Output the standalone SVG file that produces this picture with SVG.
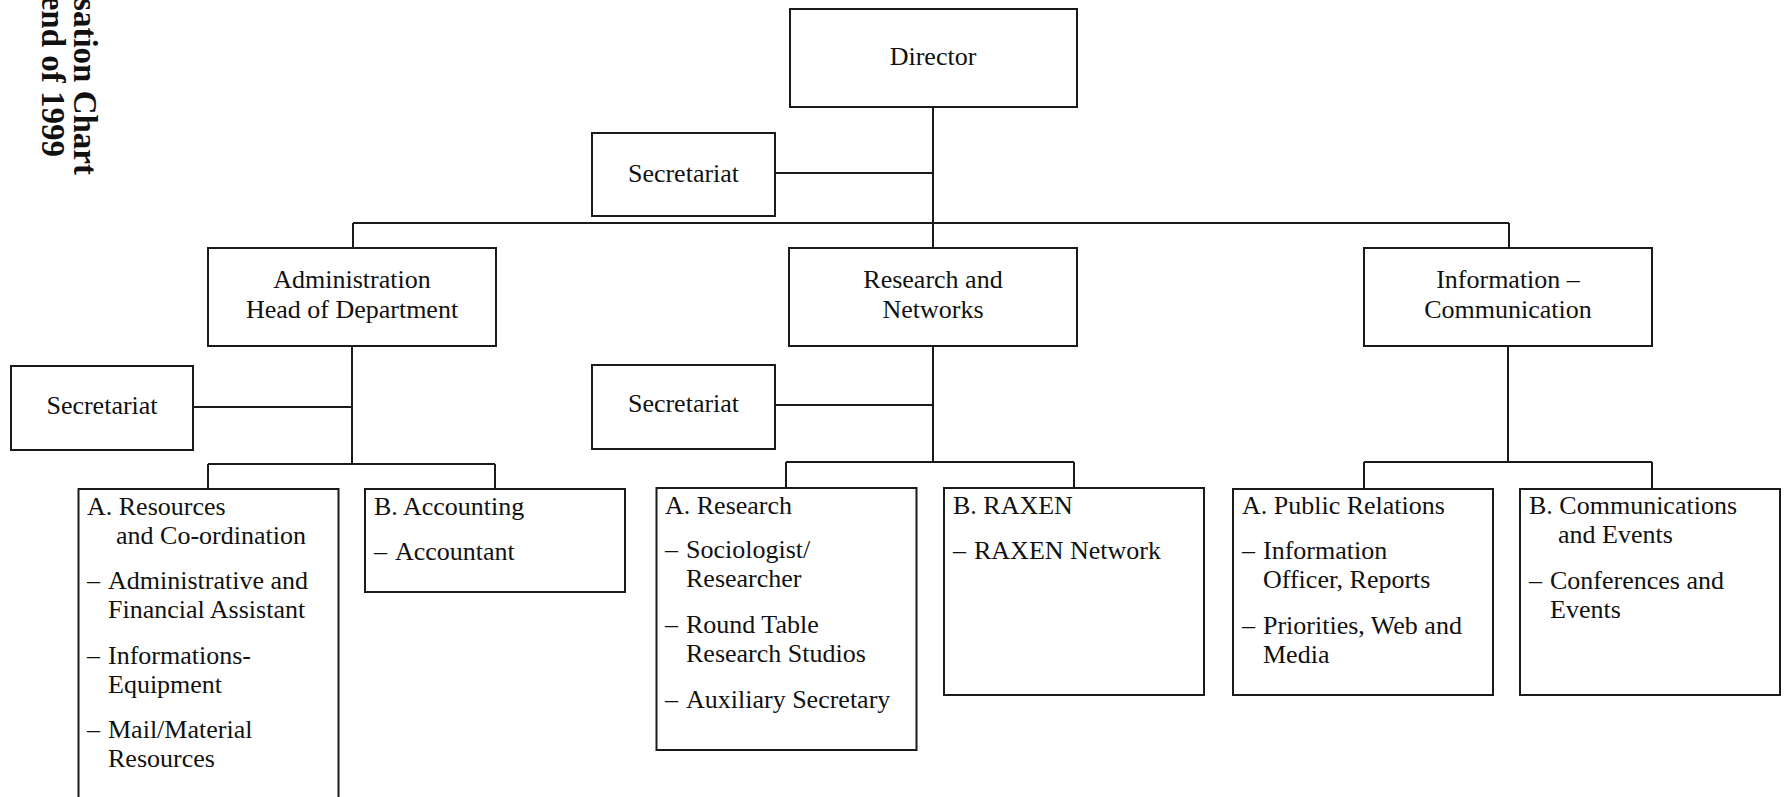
<svg xmlns="http://www.w3.org/2000/svg" width="1784" height="797" viewBox="0 0 1784 797">
<style>
  .box { fill: #ffffff; stroke: #1a1a1a; stroke-width: 2; }
  .conn { fill: none; stroke: #1a1a1a; stroke-width: 2; }
  .t { font-family: "Liberation Serif", "Times New Roman", serif; font-size: 26px; fill: #111111; }
  .c { text-anchor: middle; }
  .title { font-family: "Liberation Serif", "Times New Roman", serif; font-size: 33px; font-weight: bold; fill: #111111; text-anchor: end; }
</style>
<rect width="1784" height="797" fill="#ffffff"/>

<g id="title">
  <text class="title" transform="translate(74,175) rotate(90)">sation Chart</text>
  <text class="title" transform="translate(42,157) rotate(90)">end of 1999</text>
</g>

<g id="connectors">
  <path class="conn" d="M933 107 V248 M775 173 H933 M353 223 H1509 M353 223 V248 M1509 223 V248"/>
  <path class="conn" d="M352 346 V464 M193 407 H352 M208 464 H495 M208 464 V489 M495 464 V489"/>
  <path class="conn" d="M933 346 V462 M775 405 H933 M786 462 H1074 M786 462 V488 M1074 462 V488"/>
  <path class="conn" d="M1508 346 V462 M1364 462 H1652 M1364 462 V489 M1652 462 V489"/>
</g>

<g id="director">
  <rect class="box" x="790" y="9" width="287" height="98"/>
  <text class="t c" x="933" y="65">Director</text>
</g>
<g id="secretariat-director">
  <rect class="box" x="592" y="133" width="183" height="83"/>
  <text class="t c" x="683.5" y="182">Secretariat</text>
</g>

<g id="administration">
  <rect class="box" x="208" y="248" width="288" height="98"/>
  <text class="t c" x="352" y="288">Administration</text>
  <text class="t c" x="352" y="318">Head of Department</text>
</g>
<g id="research-networks">
  <rect class="box" x="789" y="248" width="288" height="98"/>
  <text class="t c" x="933" y="288">Research and</text>
  <text class="t c" x="933" y="318">Networks</text>
</g>
<g id="information-communication">
  <rect class="box" x="1364" y="248" width="288" height="98"/>
  <text class="t c" x="1508" y="288">Information –</text>
  <text class="t c" x="1508" y="318">Communication</text>
</g>

<g id="secretariat-admin">
  <rect class="box" x="11" y="366" width="182" height="84"/>
  <text class="t c" x="102" y="414">Secretariat</text>
</g>
<g id="secretariat-research">
  <rect class="box" x="592" y="365" width="183" height="84"/>
  <text class="t c" x="683.5" y="412">Secretariat</text>
</g>

<g id="admin-a">
  <rect class="box" x="78.5" y="489" width="260" height="330"/>
  <text class="t" x="87" y="515">A. Resources</text>
  <text class="t" x="116" y="544">and Co-ordination</text>
  <text class="t" x="87" y="589">–<tspan x="108">Administrative and</tspan></text>
  <text class="t" x="108" y="618">Financial Assistant</text>
  <text class="t" x="87" y="664">–<tspan x="108">Informations-</tspan></text>
  <text class="t" x="108" y="693">Equipment</text>
  <text class="t" x="87" y="738">–<tspan x="108">Mail/Material</tspan></text>
  <text class="t" x="108" y="767">Resources</text>
</g>
<g id="admin-b">
  <rect class="box" x="365" y="489" width="260" height="103"/>
  <text class="t" x="374" y="515">B. Accounting</text>
  <text class="t" x="374" y="560">–<tspan x="395">Accountant</tspan></text>
</g>

<g id="research-a">
  <rect class="box" x="656.5" y="488" width="260" height="262"/>
  <text class="t" x="665" y="514">A. Research</text>
  <text class="t" x="665" y="558">–<tspan x="686">Sociologist/</tspan></text>
  <text class="t" x="686" y="587">Researcher</text>
  <text class="t" x="665" y="633">–<tspan x="686">Round Table</tspan></text>
  <text class="t" x="686" y="662">Research Studios</text>
  <text class="t" x="665" y="708">–<tspan x="686">Auxiliary Secretary</tspan></text>
</g>
<g id="research-b">
  <rect class="box" x="944" y="488" width="260" height="207"/>
  <text class="t" x="953" y="514">B. RAXEN</text>
  <text class="t" x="953" y="559">–<tspan x="974">RAXEN Network</tspan></text>
</g>

<g id="info-a">
  <rect class="box" x="1233" y="489" width="260" height="206"/>
  <text class="t" x="1242" y="514">A. Public Relations</text>
  <text class="t" x="1242" y="559">–<tspan x="1263">Information</tspan></text>
  <text class="t" x="1263" y="588">Officer, Reports</text>
  <text class="t" x="1242" y="634">–<tspan x="1263">Priorities, Web and</tspan></text>
  <text class="t" x="1263" y="663">Media</text>
</g>
<g id="info-b">
  <rect class="box" x="1520" y="489" width="260" height="206"/>
  <text class="t" x="1529" y="514">B. Communications</text>
  <text class="t" x="1558" y="543">and Events</text>
  <text class="t" x="1529" y="589">–<tspan x="1550">Conferences and</tspan></text>
  <text class="t" x="1550" y="618">Events</text>
</g>
</svg>
